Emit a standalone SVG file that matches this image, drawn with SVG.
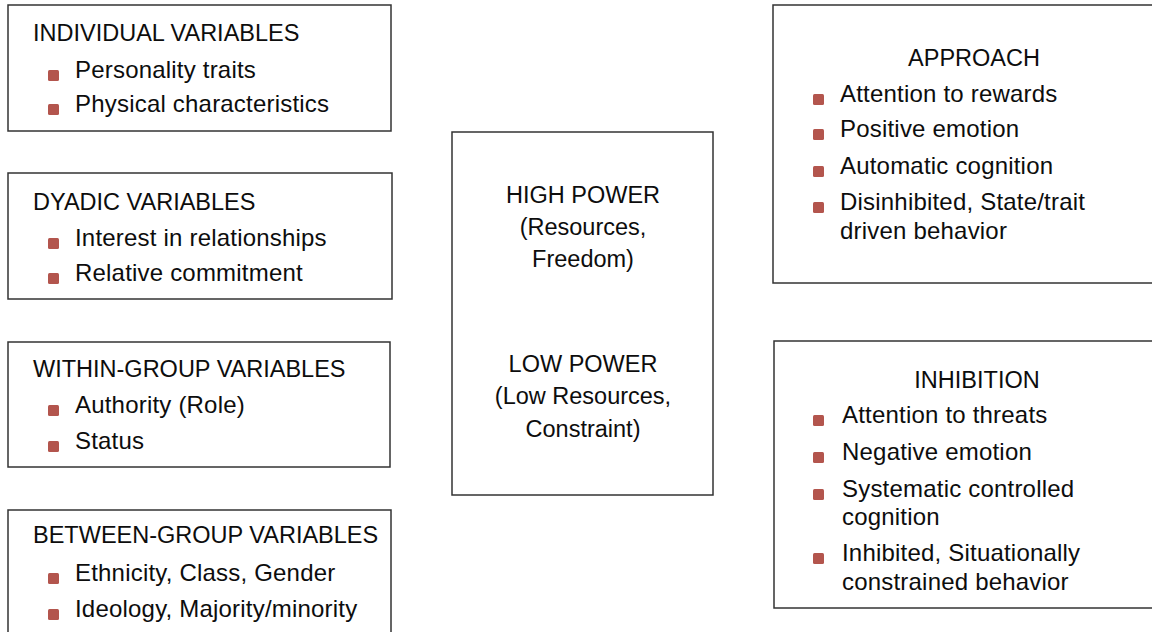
<svg xmlns="http://www.w3.org/2000/svg" width="1152" height="632" viewBox="0 0 1152 632">
  <style>
    .box { fill: #ffffff; stroke: #333333; stroke-width: 1.5; }
    .hd { font-family: "Liberation Sans", Arial, Helvetica, sans-serif; font-size: 23.5px; fill: #0d0d0d; }
    .it { font-family: "Liberation Sans", Arial, Helvetica, sans-serif; font-size: 24px; letter-spacing: 0.2px; fill: #0d0d0d; }
    .mid { text-anchor: middle; }
    .bul { fill: #b3554d; }
  </style>
  <defs>
    <rect id="b" class="bul" width="11" height="11" rx="1.5"/>
  </defs>
  <rect width="1152" height="632" fill="#ffffff"/>

  <!-- left column: antecedent variables -->
  <g id="individual">
    <rect class="box" x="8" y="5" width="383" height="126"/>
    <text class="hd" x="33" y="41">INDIVIDUAL VARIABLES</text>
    <use href="#b" x="48" y="70"/>
    <text class="it" x="75" y="78">Personality traits</text>
    <use href="#b" x="48" y="104"/>
    <text class="it" x="75" y="112">Physical characteristics</text>
  </g>

  <g id="dyadic">
    <rect class="box" x="8" y="173" width="384" height="126"/>
    <text class="hd" x="33" y="210">DYADIC VARIABLES</text>
    <use href="#b" x="48" y="238"/>
    <text class="it" x="75" y="246">Interest in relationships</text>
    <use href="#b" x="48" y="273"/>
    <text class="it" x="75" y="281">Relative commitment</text>
  </g>

  <g id="within-group">
    <rect class="box" x="8" y="342" width="382" height="125"/>
    <text class="hd" x="33" y="377">WITHIN-GROUP VARIABLES</text>
    <use href="#b" x="48" y="405"/>
    <text class="it" x="75" y="413">Authority (Role)</text>
    <use href="#b" x="48" y="441"/>
    <text class="it" x="75" y="449">Status</text>
  </g>

  <g id="between-group">
    <rect class="box" x="8" y="510" width="383" height="140"/>
    <text class="hd" x="33" y="543">BETWEEN-GROUP VARIABLES</text>
    <use href="#b" x="48" y="573"/>
    <text class="it" x="75" y="581">Ethnicity, Class, Gender</text>
    <use href="#b" x="48" y="609"/>
    <text class="it" x="75" y="617">Ideology, Majority/minority</text>
  </g>

  <!-- centre: power level -->
  <g id="power">
    <rect class="box" x="452" y="132" width="261" height="363"/>
    <text class="hd mid" x="583" y="203">HIGH POWER</text>
    <text class="hd mid" x="583" y="235">(Resources,</text>
    <text class="hd mid" x="583" y="267">Freedom)</text>
    <text class="hd mid" x="583" y="372">LOW POWER</text>
    <text class="hd mid" x="583" y="404">(Low Resources,</text>
    <text class="hd mid" x="583" y="437">Constraint)</text>
  </g>

  <!-- right column: behavioural tendencies -->
  <g id="approach">
    <rect class="box" x="773" y="5" width="400" height="278"/>
    <text class="hd mid" x="974" y="66">APPROACH</text>
    <use href="#b" x="813" y="94"/>
    <text class="it" x="840" y="102">Attention to rewards</text>
    <use href="#b" x="813" y="129"/>
    <text class="it" x="840" y="137">Positive emotion</text>
    <use href="#b" x="813" y="166"/>
    <text class="it" x="840" y="174">Automatic cognition</text>
    <use href="#b" x="813" y="202"/>
    <text class="it" x="840" y="210">Disinhibited, State/trait</text>
    <text class="it" x="840" y="239">driven behavior</text>
  </g>

  <g id="inhibition">
    <rect class="box" x="774" y="341" width="400" height="267"/>
    <text class="hd mid" x="977" y="388">INHIBITION</text>
    <use href="#b" x="813" y="415"/>
    <text class="it" x="842" y="423">Attention to threats</text>
    <use href="#b" x="813" y="452"/>
    <text class="it" x="842" y="460">Negative emotion</text>
    <use href="#b" x="813" y="489"/>
    <text class="it" x="842" y="497">Systematic controlled</text>
    <text class="it" x="842" y="525">cognition</text>
    <use href="#b" x="813" y="553"/>
    <text class="it" x="842" y="561">Inhibited, Situationally</text>
    <text class="it" x="842" y="590">constrained behavior</text>
  </g>

  <g id="connectors"/>
</svg>
